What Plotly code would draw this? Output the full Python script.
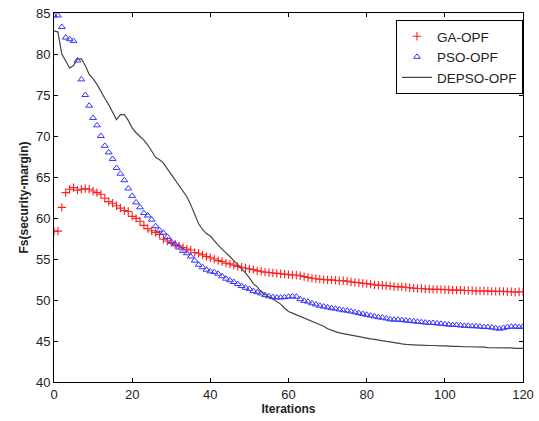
import plotly.graph_objects as go

iterations = list(range(0, 121))

ga_opf = [
    58.4, 58.4, 61.3, 63.1, 63.5, 63.7, 63.4, 63.5, 63.6, 63.5,
    63.3, 63.1, 62.9, 62.4, 62.0, 61.8, 61.5, 61.2, 60.9, 60.8,
    60.2, 59.95, 59.6, 59.1, 58.7, 58.45, 58.25, 58.0, 57.4, 57.2,
    57.0, 56.8, 56.6, 56.4, 56.2, 56.1, 55.8, 55.7, 55.5, 55.3,
    55.15, 55.0, 54.8, 54.7, 54.5, 54.4, 54.25, 54.1, 54.0, 53.9,
    53.8, 53.7, 53.55, 53.5, 53.4, 53.35, 53.3, 53.25, 53.2, 53.15,
    53.1, 53.05, 53.05, 52.95, 52.85, 52.75, 52.65, 52.6, 52.55, 52.5,
    52.45, 52.45, 52.4, 52.35, 52.35, 52.3, 52.2, 52.15, 52.1, 52.05,
    52.0, 51.95, 51.85, 51.8, 51.8, 51.75, 51.7, 51.65, 51.6, 51.6,
    51.55, 51.5, 51.45, 51.4, 51.4, 51.35, 51.35, 51.3, 51.3, 51.3,
    51.25, 51.25, 51.2, 51.2, 51.2, 51.15, 51.15, 51.15, 51.1, 51.1,
    51.1, 51.1, 51.05, 51.05, 51.05, 51.05, 51.0, 51.0, 50.95, 51.0,
    51.0,
]

pso_opf = [
    84.7, 84.7, 83.3, 82.0, 81.8, 81.6, 79.2, 76.9, 75.0, 73.7,
    72.2, 71.3, 70.0, 68.8, 68.0, 67.2, 66.1, 65.4, 64.6, 63.6,
    62.7, 61.9, 61.3, 60.6, 60.3, 59.8, 59.0, 58.5, 58.2, 57.7,
    57.1, 56.8, 56.4, 56.0, 55.7, 55.3, 54.8, 54.3, 54.0, 53.7,
    53.5, 53.4, 53.2, 52.9, 52.6, 52.4, 52.2, 51.95, 51.7, 51.5,
    51.35, 51.1, 50.95, 50.8, 50.6, 50.45, 50.35, 50.3, 50.3, 50.35,
    50.4, 50.45, 50.4, 50.1, 49.9, 49.8, 49.6, 49.45, 49.3, 49.2,
    49.1, 49.0, 48.95, 48.85, 48.75, 48.7, 48.6, 48.5, 48.4, 48.3,
    48.2, 48.1, 48.0, 47.9, 47.85, 47.75, 47.65, 47.6, 47.6, 47.55,
    47.5, 47.45, 47.4, 47.35, 47.3, 47.25, 47.2, 47.2, 47.15, 47.1,
    47.05, 47.0, 46.95, 46.95, 46.9, 46.85, 46.85, 46.8, 46.8, 46.75,
    46.7, 46.7, 46.65, 46.55, 46.5, 46.6, 46.7, 46.75, 46.75, 46.7,
    46.75,
]

depso_opf = [
    82.8, 82.7, 80.0, 79.1, 78.3, 78.6, 79.4, 79.4, 78.6, 77.5,
    77.0, 76.3, 75.4, 74.6, 73.8, 72.9, 72.0, 72.6, 72.6, 71.9,
    71.0, 70.4, 70.0, 69.5, 68.9, 68.2, 67.4, 67.1, 66.7, 66.0,
    65.3, 64.6, 64.0, 63.3, 62.6, 61.6, 60.4, 59.3, 58.6, 58.1,
    57.8, 57.2, 56.7, 56.2, 55.8, 55.3, 54.8, 54.3, 53.9, 53.3,
    52.7, 52.0, 51.6, 51.0, 50.7, 50.4, 50.2, 49.9, 49.5, 49.0,
    48.6, 48.4, 48.2, 48.0, 47.8, 47.6, 47.4, 47.2, 47.0, 46.8,
    46.5, 46.3, 46.15, 46.0, 45.9, 45.8, 45.7, 45.6, 45.5, 45.4,
    45.3, 45.25, 45.2, 45.1, 45.0, 44.95, 44.9, 44.8, 44.7, 44.65,
    44.6, 44.55, 44.55, 44.5, 44.5, 44.45, 44.45, 44.45, 44.4, 44.4,
    44.4, 44.35, 44.35, 44.35, 44.3, 44.3, 44.3, 44.3, 44.25, 44.25,
    44.25, 44.2, 44.2, 44.2, 44.2, 44.15, 44.15, 44.15, 44.1, 44.1,
    44.1,
]

x_ticks = [0, 20, 40, 60, 80, 100, 120]
y_ticks = [40, 45, 50, 55, 60, 65, 70, 75, 80, 85]

FONT = "Liberation Sans, Arial, sans-serif"

fig = go.Figure()
fig.add_trace(go.Scatter(
    x=iterations, y=ga_opf, mode="markers", name="GA-OPF",
    marker=dict(symbol="cross-thin", size=6, color="#ff2020",
                line=dict(color="#ff2020", width=1.1)),
))
fig.add_trace(go.Scatter(
    x=iterations, y=pso_opf, mode="markers", name="PSO-OPF",
    marker=dict(symbol="triangle-up-open", size=6, color="#3535ff",
                line=dict(color="#3535ff", width=1)),
))
fig.add_trace(go.Scatter(
    x=iterations, y=depso_opf, mode="lines", name="DEPSO-OPF",
    line=dict(color="#444444", width=1.2),
))

axis_common = dict(
    showgrid=False, zeroline=False, showline=True, linecolor="black",
    linewidth=1, mirror="ticks", ticks="inside", ticklen=4,
    tickcolor="black", automargin=False,
    tickfont=dict(family=FONT, size=13, color="#222"),
)

fig.update_layout(
    width=539, height=421,
    margin=dict(l=54, r=16, t=13, b=39, autoexpand=False),
    paper_bgcolor="white", plot_bgcolor="white",
    font=dict(family=FONT, color="#222"),
    showlegend=True,
    legend=dict(
        x=1.0, y=0.981, xanchor="right", yanchor="top",
        bordercolor="black", borderwidth=1, bgcolor="white",
        font=dict(family=FONT, size=13.5, color="#222"),
        tracegroupgap=0, itemwidth=30,
    ),
    xaxis=dict(
        range=[0, 120], tickvals=x_ticks,
        title=dict(text="<b>Iterations</b>", font=dict(family=FONT, size=12), standoff=2),
        **axis_common,
    ),
    yaxis=dict(
        range=[40, 85], tickvals=y_ticks,
        title=dict(text="<b>Fs(security-margin)</b>", font=dict(family=FONT, size=12), standoff=4),
        **axis_common,
    ),
)

fig.write_html(
    "out.html",
    config={"displayModeBar": False},
    post_script="document.body.style.margin='0';document.body.style.overflow='hidden';",
)
